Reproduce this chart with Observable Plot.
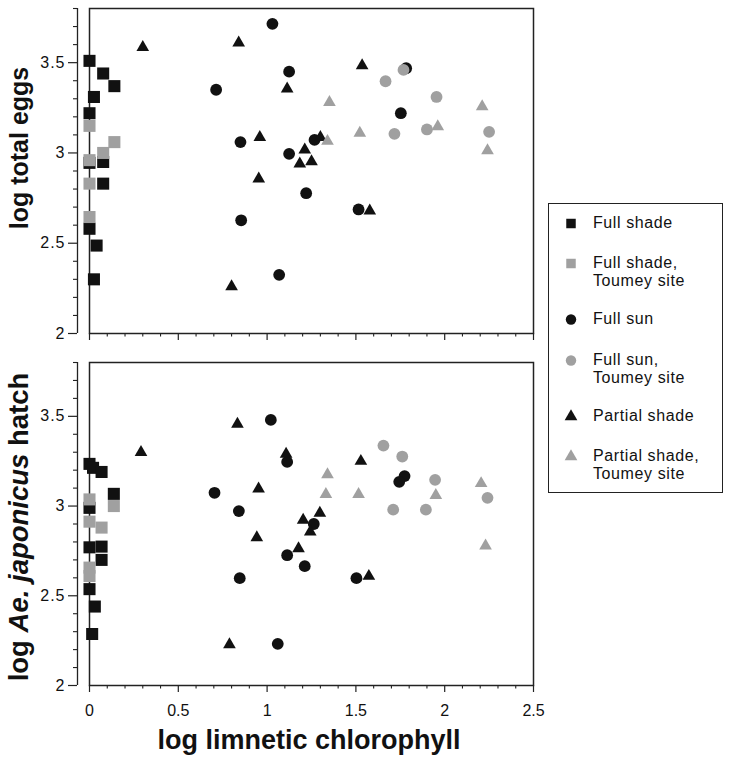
<!DOCTYPE html>
<html><head><meta charset="utf-8">
<script src="https://cdn.jsdelivr.net/npm/d3@7"></script>
<script src="https://cdn.jsdelivr.net/npm/@observablehq/plot@0.6"></script>
<style>
body{margin:0;background:#fff;}
#wrap{position:relative;width:730px;height:761px;font-family:"Liberation Sans",Arial,Helvetica,sans-serif;color:#111;overflow:hidden;}
.panel{position:absolute;left:0;}
.ytitle{position:absolute;white-space:nowrap;font-weight:bold;font-size:25px;transform:translate(-50%,-50%) rotate(-90deg);}
.xtitle{position:absolute;white-space:nowrap;font-weight:bold;font-size:27px;transform:translateX(-50%);}
#legend{position:absolute;left:548px;top:203px;width:175px;height:290px;box-sizing:border-box;border:1.5px solid #222;}
.li{position:absolute;left:44px;font-size:16px;line-height:17.5px;letter-spacing:0.6px;white-space:nowrap;}
.lm{position:absolute;left:15px;}
g[aria-label="y-axis tick label"]{letter-spacing:1px;}
</style></head><body><div id="wrap"></div>
<script>
// ---- categories ----
const seriesNames = ["Full shade", "Full shade, Toumey site", "Full sun", "Full sun, Toumey site", "Partial shade", "Partial shade, Toumey site"];
const seriesLegendLines = [["Full shade"], ["Full shade,", "Toumey site"], ["Full sun"], ["Full sun,", "Toumey site"], ["Partial shade"], ["Partial shade,", "Toumey site"]];
const seriesSymbols = ["square", "square", "circle", "circle", "triangle", "triangle"];
const seriesColors = ["#111111", "#a0a0a0", "#111111", "#a0a0a0", "#111111", "#a0a0a0"];

// ---- ticks ----
const xMajorTicks = [0, 0.5, 1, 1.5, 2, 2.5];
const xMinorTicks = [0.1,0.2,0.3,0.4,0.6,0.7,0.8,0.9,1.1,1.2,1.3,1.4,1.6,1.7,1.8,1.9,2.1,2.2,2.3,2.4];
const yMajorTicks = [2, 2.5, 3, 3.5];
const yMinorTicks = [2.1,2.2,2.3,2.4,2.6,2.7,2.8,2.9,3.1,3.2,3.3,3.4,3.6,3.7,3.8];

// ---- top panel: log total eggs ----
const eggsFullShadeX = [0, 0.077, 0.14, 0.025, 0, 0.077, 0, 0.077, 0, 0.04, 0.025];
const eggsFullShadeY = [3.51, 3.44, 3.37, 3.31, 3.22, 2.95, 2.945, 2.83, 2.58, 2.487, 2.30];
const eggsFullShadeToumeyX = [0, 0.14, 0.077, 0, 0, 0];
const eggsFullShadeToumeyY = [3.15, 3.06, 3.00, 2.96, 2.83, 2.645];
const eggsFullSunX = [0.713, 0.85, 0.854, 1.03, 1.124, 1.267, 1.124, 1.22, 1.515, 1.068, 1.783, 1.753];
const eggsFullSunY = [3.35, 3.06, 2.627, 3.715, 3.45, 3.072, 2.995, 2.777, 2.687, 2.325, 3.469, 3.22];
const eggsFullSunToumeyX = [1.768, 1.667, 1.954, 1.717, 1.90, 2.25];
const eggsFullSunToumeyY = [3.46, 3.397, 3.31, 3.106, 3.13, 3.117];
const eggsPartialX = [0.30, 0.84, 0.80, 1.113, 1.535, 0.959, 1.30, 1.212, 1.184, 1.25, 0.953, 1.578];
const eggsPartialY = [3.585, 3.61, 2.26, 3.355, 3.484, 3.087, 3.087, 3.017, 2.94, 2.952, 2.857, 2.679];
const eggsPartialToumeyX = [1.351, 1.34, 1.522, 2.211, 1.961, 2.241];
const eggsPartialToumeyY = [3.28, 3.065, 3.11, 3.257, 3.146, 3.013];

// ---- bottom panel: log Ae. japonicus hatch ----
const hatchFullShadeX = [0, 0.02, 0.068, 0.137, 0, 0, 0.068, 0.068, 0, 0.03, 0.015];
const hatchFullShadeY = [3.235, 3.213, 3.19, 3.068, 2.99, 2.77, 2.774, 2.70, 2.537, 2.44, 2.287];
const hatchFullShadeToumeyX = [0, 0.137, 0, 0.068, 0, 0];
const hatchFullShadeToumeyY = [3.037, 3.0, 2.913, 2.88, 2.657, 2.61];
const hatchFullSunX = [0.704, 0.841, 0.846, 1.021, 1.113, 1.263, 1.113, 1.212, 1.503, 1.06, 1.774, 1.744];
const hatchFullSunY = [3.074, 2.972, 2.598, 3.48, 3.246, 2.90, 2.726, 2.665, 2.598, 2.232, 3.167, 3.135];
const hatchFullSunToumeyX = [1.655, 1.761, 1.946, 2.241, 1.71, 1.894];
const hatchFullSunToumeyY = [3.337, 3.276, 3.146, 3.046, 2.98, 2.98];
const hatchPartialX = [0.29, 0.833, 0.788, 1.107, 1.528, 0.952, 1.203, 1.297, 1.243, 0.942, 1.177, 1.573];
const hatchPartialY = [3.30, 3.457, 2.228, 3.29, 3.25, 3.096, 2.922, 2.961, 2.856, 2.824, 2.763, 2.609];
const hatchPartialToumeyX = [1.34, 1.331, 1.515, 2.205, 1.95, 2.23];
const hatchPartialToumeyY = [3.176, 3.065, 3.065, 3.126, 3.06, 2.778];

const eggsSeries = [[eggsFullShadeX, eggsFullShadeY],[eggsFullShadeToumeyX, eggsFullShadeToumeyY],[eggsFullSunX, eggsFullSunY],[eggsFullSunToumeyX, eggsFullSunToumeyY],[eggsPartialX, eggsPartialY],[eggsPartialToumeyX, eggsPartialToumeyY]];
const hatchSeries = [[hatchFullShadeX, hatchFullShadeY],[hatchFullShadeToumeyX, hatchFullShadeToumeyY],[hatchFullSunX, hatchFullSunY],[hatchFullSunToumeyX, hatchFullSunToumeyY],[hatchPartialX, hatchPartialY],[hatchPartialToumeyX, hatchPartialToumeyY]];

(function(){
function rows(series){
  return series.map(([xs, ys], i) => xs.map((x, j) => ({series: seriesNames[i], x, y: ys[j]})));
}
const symR = {square: 6.8, circle: 5.9, triangle: 4.7};
const FONT = '"Liberation Sans", Arial, Helvetica, sans-serif';
const INK = "#222";

function panel(series, {height, marginTop, marginBottom, showLabels}){
  const data = rows(series);
  const dots = data.map((d, i) => Plot.dot(d, {x: "x", y: "y", symbol: seriesSymbols[i], r: symR[seriesSymbols[i]], fill: seriesColors[i], stroke: "none"}));
  return Plot.plot({
    width: 540, height,
    marginLeft: 77, marginRight: 7, marginTop, marginBottom,
    style: {fontFamily: FONT, fontSize: "16px", color: "#111", background: "#fff", overflow: "visible"},
    x: {domain: [0, 2.5], insetLeft: 12, label: null},
    y: {domain: [2, 3.8], label: null},
    marks: [
      Plot.frame({insetLeft: 12, stroke: INK, strokeWidth: 1.5}),
      Plot.ruleX([0], {dx: -12, stroke: INK, strokeWidth: 1.3}),
      Plot.axisY(yMajorTicks, {anchor: "left", tickSize: 9, tickPadding: 3, stroke: INK, strokeWidth: 1.2, label: null, tickFormat: d => String(d)}),
      Plot.axisY(yMinorTicks, {anchor: "left", tickSize: 4, stroke: INK, strokeWidth: 1.1, label: null, tickFormat: () => ""}),
      Plot.axisX(xMajorTicks, {anchor: "bottom", tickSize: 7, tickPadding: 12, stroke: INK, strokeWidth: 1.2, label: null, tickFormat: showLabels ? (d => String(d)) : (() => "")}),
      Plot.axisX(xMinorTicks, {anchor: "bottom", tickSize: 3.5, stroke: INK, strokeWidth: 1.1, label: null, tickFormat: () => ""}),
      ...dots
    ]
  });
}

const wrap = document.getElementById("wrap");

const topPlot = panel(eggsSeries, {height: 345, marginTop: 8, marginBottom: 12, showLabels: false});
const topDiv = document.createElement("div"); topDiv.className = "panel"; topDiv.style.top = "0px"; topDiv.appendChild(topPlot); wrap.appendChild(topDiv);

const botPlot = panel(hatchSeries, {height: 380, marginTop: 12, marginBottom: 45, showLabels: true});
const botDiv = document.createElement("div"); botDiv.className = "panel"; botDiv.style.top = "350px"; botDiv.appendChild(botPlot); wrap.appendChild(botDiv);

// axis titles
const yt1 = document.createElement("div"); yt1.className = "ytitle"; yt1.style.left = "19px"; yt1.style.top = "148px"; yt1.textContent = "log total eggs"; wrap.appendChild(yt1);
const yt2 = document.createElement("div"); yt2.className = "ytitle"; yt2.style.left = "19px"; yt2.style.top = "527px"; yt2.style.fontSize = "27.5px";
yt2.innerHTML = 'log <i>Ae. japonicus</i> hatch'; wrap.appendChild(yt2);
const xt = document.createElement("div"); xt.className = "xtitle"; xt.style.left = "309px"; xt.style.top = "727px"; xt.style.lineHeight = "1"; xt.textContent = "log limnetic chlorophyll"; wrap.appendChild(xt);

// legend
const legend = document.createElement("div"); legend.id = "legend"; wrap.appendChild(legend);
const rowTops = [222, 262, 318, 359, 415, 455];
seriesNames.forEach((name, i) => {
  const cy = rowTops[i] - 203;
  const svgNS = "http://www.w3.org/2000/svg";
  const s = document.createElementNS(svgNS, "svg");
  s.setAttribute("width", 14); s.setAttribute("height", 14);
  s.setAttribute("class", "lm"); s.style.top = (cy - 7) + "px";
  const sym = seriesSymbols[i] === "square" ? d3.symbolSquare : seriesSymbols[i] === "circle" ? d3.symbolCircle : d3.symbolTriangle;
  const p = document.createElementNS(svgNS, "path");
  p.setAttribute("d", d3.symbol(sym, seriesSymbols[i] === "triangle" ? 70 : seriesSymbols[i] === "square" ? 90 : 85)());
  p.setAttribute("transform", "translate(7,7.5)");
  p.setAttribute("fill", seriesColors[i]);
  s.appendChild(p);
  legend.appendChild(s);
  const t = document.createElement("div"); t.className = "li";
  t.style.top = (cy - 9) + "px";
  t.innerHTML = seriesLegendLines[i].join("<br>");
  legend.appendChild(t);
});
})();
</script></body></html>
